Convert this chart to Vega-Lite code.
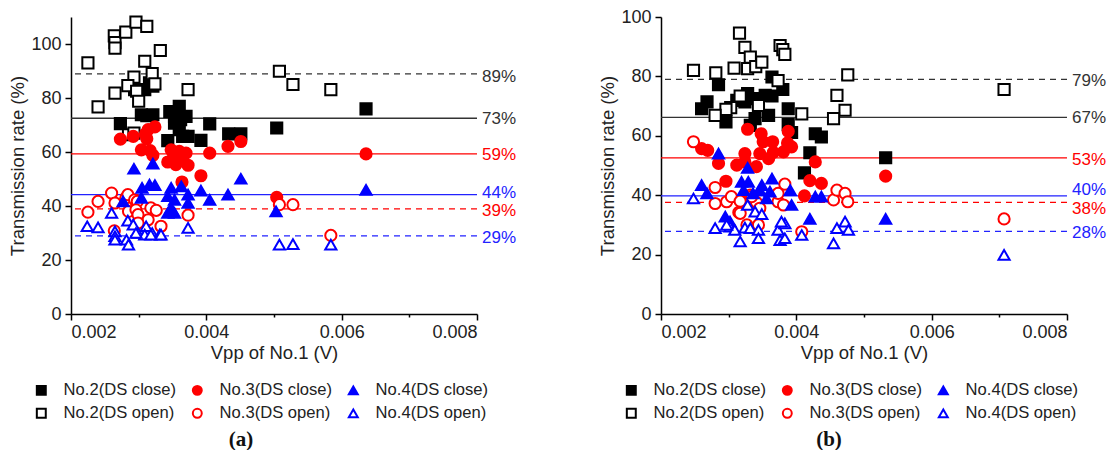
{
  "$schema": "https://vega.github.io/schema/vega-lite/v6.json",
  "padding": {"left": 8, "top": 8, "right": 0, "bottom": 0},
  "spacing": 81,
  "config": {
    "view": {"stroke": null},
    "axis": {"grid": false, "domainColor": "#000", "domainWidth": 1.5, "tickColor": "#000", "tickWidth": 1.5, "labelFont": "Liberation Sans", "labelFontSize": 18, "labelColor": "#222", "titleFont": "Liberation Sans", "titleFontSize": 18.5, "titleFontWeight": "normal", "titleColor": "#222"},
    "legend": {"columns": 3, "direction": "horizontal", "title": null, "padding": 0, "labelFont": "Liberation Sans", "labelFontSize": 16.6, "labelColor": "#222", "symbolSize": 80, "symbolStrokeWidth": 2, "labelOffset": 14, "columnPadding": 11, "rowPadding": 5, "symbolOpacity": 1},
    "title": {"font": "Liberation Serif", "fontSize": 21, "fontWeight": "bold", "color": "#111", "orient": "bottom", "offset": 7}
  },
  "datasets": {
    "linesA": [
      {"series": "No.2", "state": "close", "v": 72.5, "labelAt": 72.2, "label": "73%"},
      {"series": "No.2", "state": "open", "v": 88.9, "labelAt": 87.8, "label": "89%"},
      {"series": "No.3", "state": "close", "v": 59.3, "labelAt": 58.9, "label": "59%"},
      {"series": "No.3", "state": "open", "v": 38.9, "labelAt": 38.1, "label": "39%"},
      {"series": "No.4", "state": "close", "v": 44.2, "labelAt": 44.8, "label": "44%"},
      {"series": "No.4", "state": "open", "v": 28.9, "labelAt": 28.1, "label": "29%"}
    ],
    "linesB": [
      {"series": "No.2", "state": "close", "v": 66.2, "labelAt": 66.1, "label": "67%"},
      {"series": "No.2", "state": "open", "v": 79, "labelAt": 78.5, "label": "79%"},
      {"series": "No.3", "state": "close", "v": 52.6, "labelAt": 52, "label": "53%"},
      {"series": "No.3", "state": "open", "v": 37.6, "labelAt": 35.2, "label": "38%"},
      {"series": "No.4", "state": "close", "v": 39.8, "labelAt": 41.6, "label": "40%"},
      {"series": "No.4", "state": "open", "v": 27.8, "labelAt": 27.2, "label": "28%"}
    ],
    "ptsA": [
      {"g": "No.2(DS close)", "x": 0.00273, "y": 70.5}, {"g": "No.2(DS close)", "x": 0.00304, "y": 73.8}, {"g": "No.2(DS close)", "x": 0.00312, "y": 73.5}, {"g": "No.2(DS close)", "x": 0.00321, "y": 73.8}, {"g": "No.2(DS close)", "x": 0.00294, "y": 83.1}, {"g": "No.2(DS close)", "x": 0.00309, "y": 83.1}, {"g": "No.2(DS close)", "x": 0.00316, "y": 85.6}, {"g": "No.2(DS close)", "x": 0.00321, "y": 84.4}, {"g": "No.2(DS close)", "x": 0.00346, "y": 75}, {"g": "No.2(DS close)", "x": 0.0036, "y": 76.9}, {"g": "No.2(DS close)", "x": 0.0037, "y": 73.2}, {"g": "No.2(DS close)", "x": 0.00353, "y": 73.2}, {"g": "No.2(DS close)", "x": 0.00362, "y": 72}, {"g": "No.2(DS close)", "x": 0.00353, "y": 70.7}, {"g": "No.2(DS close)", "x": 0.0036, "y": 68.3}, {"g": "No.2(DS close)", "x": 0.00365, "y": 65.8}, {"g": "No.2(DS close)", "x": 0.00343, "y": 64.2}, {"g": "No.2(DS close)", "x": 0.00373, "y": 65.8}, {"g": "No.2(DS close)", "x": 0.00405, "y": 70.4}, {"g": "No.2(DS close)", "x": 0.00392, "y": 64.3}, {"g": "No.2(DS close)", "x": 0.00433, "y": 66.7}, {"g": "No.2(DS close)", "x": 0.00451, "y": 66.7}, {"g": "No.2(DS close)", "x": 0.00504, "y": 68.9}, {"g": "No.2(DS close)", "x": 0.00636, "y": 76},
      {"g": "No.2(DS open)", "x": 0.00225, "y": 93}, {"g": "No.2(DS open)", "x": 0.0024, "y": 76.7}, {"g": "No.2(DS open)", "x": 0.00264, "y": 103}, {"g": "No.2(DS open)", "x": 0.00265, "y": 100.5}, {"g": "No.2(DS open)", "x": 0.00265, "y": 98.5}, {"g": "No.2(DS open)", "x": 0.00265, "y": 81.8}, {"g": "No.2(DS open)", "x": 0.00281, "y": 104.4}, {"g": "No.2(DS open)", "x": 0.00296, "y": 108.1}, {"g": "No.2(DS open)", "x": 0.00312, "y": 106.5}, {"g": "No.2(DS open)", "x": 0.00332, "y": 97.6}, {"g": "No.2(DS open)", "x": 0.00309, "y": 93.6}, {"g": "No.2(DS open)", "x": 0.00293, "y": 87.7}, {"g": "No.2(DS open)", "x": 0.0032, "y": 89}, {"g": "No.2(DS open)", "x": 0.00284, "y": 84.6}, {"g": "No.2(DS open)", "x": 0.00324, "y": 85.2}, {"g": "No.2(DS open)", "x": 0.00297, "y": 82.5}, {"g": "No.2(DS open)", "x": 0.003, "y": 78.8}, {"g": "No.2(DS open)", "x": 0.00373, "y": 83.1}, {"g": "No.2(DS open)", "x": 0.00285, "y": 66.4}, {"g": "No.2(DS open)", "x": 0.00293, "y": 67}, {"g": "No.2(DS open)", "x": 0.00508, "y": 89.9}, {"g": "No.2(DS open)", "x": 0.00528, "y": 85}, {"g": "No.2(DS open)", "x": 0.00584, "y": 83.1},
      {"g": "No.3(DS close)", "x": 0.00273, "y": 64.8}, {"g": "No.3(DS close)", "x": 0.00292, "y": 65.8}, {"g": "No.3(DS close)", "x": 0.00324, "y": 69.3}, {"g": "No.3(DS close)", "x": 0.00314, "y": 68.3}, {"g": "No.3(DS close)", "x": 0.0031, "y": 66.7}, {"g": "No.3(DS close)", "x": 0.00312, "y": 64.9}, {"g": "No.3(DS close)", "x": 0.00304, "y": 60.8}, {"g": "No.3(DS close)", "x": 0.00317, "y": 60.5}, {"g": "No.3(DS close)", "x": 0.00321, "y": 58.8}, {"g": "No.3(DS close)", "x": 0.00348, "y": 60.8}, {"g": "No.3(DS close)", "x": 0.0036, "y": 60.2}, {"g": "No.3(DS close)", "x": 0.0037, "y": 59.6}, {"g": "No.3(DS close)", "x": 0.00358, "y": 58.5}, {"g": "No.3(DS close)", "x": 0.00365, "y": 56.8}, {"g": "No.3(DS close)", "x": 0.00343, "y": 56.3}, {"g": "No.3(DS close)", "x": 0.00355, "y": 55.3}, {"g": "No.3(DS close)", "x": 0.00373, "y": 55.1}, {"g": "No.3(DS close)", "x": 0.00351, "y": 57.8}, {"g": "No.3(DS close)", "x": 0.00405, "y": 59.6}, {"g": "No.3(DS close)", "x": 0.00392, "y": 51.2}, {"g": "No.3(DS close)", "x": 0.00364, "y": 48.9}, {"g": "No.3(DS close)", "x": 0.00432, "y": 62.1}, {"g": "No.3(DS close)", "x": 0.00451, "y": 63.9}, {"g": "No.3(DS close)", "x": 0.00504, "y": 43.2}, {"g": "No.3(DS close)", "x": 0.00636, "y": 59.3},
      {"g": "No.3(DS open)", "x": 0.00225, "y": 37.7}, {"g": "No.3(DS open)", "x": 0.0024, "y": 41.7}, {"g": "No.3(DS open)", "x": 0.0026, "y": 44.8}, {"g": "No.3(DS open)", "x": 0.00265, "y": 41.1}, {"g": "No.3(DS open)", "x": 0.00281, "y": 43}, {"g": "No.3(DS open)", "x": 0.00284, "y": 44.2}, {"g": "No.3(DS open)", "x": 0.00285, "y": 38}, {"g": "No.3(DS open)", "x": 0.00294, "y": 42.3}, {"g": "No.3(DS open)", "x": 0.00298, "y": 41.7}, {"g": "No.3(DS open)", "x": 0.00296, "y": 38.6}, {"g": "No.3(DS open)", "x": 0.00314, "y": 34.9}, {"g": "No.3(DS open)", "x": 0.00318, "y": 39.3}, {"g": "No.3(DS open)", "x": 0.00326, "y": 38.4}, {"g": "No.3(DS open)", "x": 0.00333, "y": 32.5}, {"g": "No.3(DS open)", "x": 0.00373, "y": 36.6}, {"g": "No.3(DS open)", "x": 0.00264, "y": 30.8}, {"g": "No.3(DS open)", "x": 0.00299, "y": 36.8}, {"g": "No.3(DS open)", "x": 0.00299, "y": 33.7}, {"g": "No.3(DS open)", "x": 0.00508, "y": 40.5}, {"g": "No.3(DS open)", "x": 0.00528, "y": 40.5}, {"g": "No.3(DS open)", "x": 0.00584, "y": 29.1},
      {"g": "No.4(DS close)", "x": 0.00293, "y": 53.8}, {"g": "No.4(DS close)", "x": 0.00321, "y": 55.7}, {"g": "No.4(DS close)", "x": 0.00305, "y": 46.7}, {"g": "No.4(DS close)", "x": 0.00316, "y": 47.9}, {"g": "No.4(DS close)", "x": 0.00324, "y": 47.7}, {"g": "No.4(DS close)", "x": 0.00348, "y": 46.7}, {"g": "No.4(DS close)", "x": 0.00363, "y": 47.3}, {"g": "No.4(DS close)", "x": 0.00343, "y": 43.6}, {"g": "No.4(DS close)", "x": 0.00353, "y": 42.3}, {"g": "No.4(DS close)", "x": 0.00373, "y": 44.2}, {"g": "No.4(DS close)", "x": 0.00373, "y": 41.1}, {"g": "No.4(DS close)", "x": 0.00348, "y": 39.3}, {"g": "No.4(DS close)", "x": 0.00353, "y": 37.4}, {"g": "No.4(DS close)", "x": 0.00343, "y": 37.4}, {"g": "No.4(DS close)", "x": 0.00392, "y": 45.7}, {"g": "No.4(DS close)", "x": 0.00405, "y": 42.3}, {"g": "No.4(DS close)", "x": 0.00432, "y": 44.2}, {"g": "No.4(DS close)", "x": 0.00451, "y": 50.1}, {"g": "No.4(DS close)", "x": 0.00277, "y": 41.7}, {"g": "No.4(DS close)", "x": 0.00304, "y": 43}, {"g": "No.4(DS close)", "x": 0.00503, "y": 38}, {"g": "No.4(DS close)", "x": 0.00636, "y": 46},
      {"g": "No.4(DS open)", "x": 0.00224, "y": 32.5}, {"g": "No.4(DS open)", "x": 0.0024, "y": 32.1}, {"g": "No.4(DS open)", "x": 0.0026, "y": 37.4}, {"g": "No.4(DS open)", "x": 0.00265, "y": 30.6}, {"g": "No.4(DS open)", "x": 0.00265, "y": 28.8}, {"g": "No.4(DS open)", "x": 0.00265, "y": 27.5}, {"g": "No.4(DS open)", "x": 0.00282, "y": 27.5}, {"g": "No.4(DS open)", "x": 0.00285, "y": 25.7}, {"g": "No.4(DS open)", "x": 0.00284, "y": 34.6}, {"g": "No.4(DS open)", "x": 0.00292, "y": 33.1}, {"g": "No.4(DS open)", "x": 0.00299, "y": 30}, {"g": "No.4(DS open)", "x": 0.00311, "y": 32.5}, {"g": "No.4(DS open)", "x": 0.0032, "y": 30}, {"g": "No.4(DS open)", "x": 0.00331, "y": 29.4}, {"g": "No.4(DS open)", "x": 0.00373, "y": 31.9}, {"g": "No.4(DS open)", "x": 0.00309, "y": 29.4}, {"g": "No.4(DS open)", "x": 0.00318, "y": 29.4}, {"g": "No.4(DS open)", "x": 0.00333, "y": 29.4}, {"g": "No.4(DS open)", "x": 0.00296, "y": 30}, {"g": "No.4(DS open)", "x": 0.00508, "y": 25.7}, {"g": "No.4(DS open)", "x": 0.00528, "y": 25.9}, {"g": "No.4(DS open)", "x": 0.00584, "y": 25.7}
    ],
    "ptsB": [
      {"g": "No.2(DS close)", "x": 0.00285, "y": 77.2}, {"g": "No.2(DS close)", "x": 0.00268, "y": 71.4}, {"g": "No.2(DS close)", "x": 0.0026, "y": 69.1}, {"g": "No.2(DS close)", "x": 0.00296, "y": 64.7}, {"g": "No.2(DS close)", "x": 0.00312, "y": 71.9}, {"g": "No.2(DS close)", "x": 0.00328, "y": 74.2}, {"g": "No.2(DS close)", "x": 0.00324, "y": 71.4}, {"g": "No.2(DS close)", "x": 0.00339, "y": 72.5}, {"g": "No.2(DS close)", "x": 0.00354, "y": 73.6}, {"g": "No.2(DS close)", "x": 0.00364, "y": 73.4}, {"g": "No.2(DS close)", "x": 0.00364, "y": 79.8}, {"g": "No.2(DS close)", "x": 0.0038, "y": 75.6}, {"g": "No.2(DS close)", "x": 0.00339, "y": 65.8}, {"g": "No.2(DS close)", "x": 0.00332, "y": 63.5}, {"g": "No.2(DS close)", "x": 0.00359, "y": 66.9}, {"g": "No.2(DS close)", "x": 0.00388, "y": 69.1}, {"g": "No.2(DS close)", "x": 0.00388, "y": 63.8}, {"g": "No.2(DS close)", "x": 0.00393, "y": 61.1}, {"g": "No.2(DS close)", "x": 0.00428, "y": 60.7}, {"g": "No.2(DS close)", "x": 0.00437, "y": 59.6}, {"g": "No.2(DS close)", "x": 0.0042, "y": 54.3}, {"g": "No.2(DS close)", "x": 0.00412, "y": 47.5}, {"g": "No.2(DS close)", "x": 0.00532, "y": 52.6},
      {"g": "No.2(DS open)", "x": 0.00248, "y": 82}, {"g": "No.2(DS open)", "x": 0.00281, "y": 81.2}, {"g": "No.2(DS open)", "x": 0.00308, "y": 82.8}, {"g": "No.2(DS open)", "x": 0.00316, "y": 94.6}, {"g": "No.2(DS open)", "x": 0.00324, "y": 89.8}, {"g": "No.2(DS open)", "x": 0.00332, "y": 86.5}, {"g": "No.2(DS open)", "x": 0.00328, "y": 82.6}, {"g": "No.2(DS open)", "x": 0.0034, "y": 83.3}, {"g": "No.2(DS open)", "x": 0.00349, "y": 84.8}, {"g": "No.2(DS open)", "x": 0.00376, "y": 90.4}, {"g": "No.2(DS open)", "x": 0.0038, "y": 89}, {"g": "No.2(DS open)", "x": 0.00383, "y": 87.4}, {"g": "No.2(DS open)", "x": 0.00373, "y": 78.6}, {"g": "No.2(DS open)", "x": 0.00317, "y": 73.4}, {"g": "No.2(DS open)", "x": 0.00303, "y": 69.5}, {"g": "No.2(DS open)", "x": 0.00296, "y": 68.9}, {"g": "No.2(DS open)", "x": 0.0028, "y": 66.9}, {"g": "No.2(DS open)", "x": 0.00344, "y": 70.2}, {"g": "No.2(DS open)", "x": 0.00408, "y": 67.4}, {"g": "No.2(DS open)", "x": 0.0046, "y": 73.6}, {"g": "No.2(DS open)", "x": 0.00472, "y": 68.6}, {"g": "No.2(DS open)", "x": 0.00455, "y": 65.8}, {"g": "No.2(DS open)", "x": 0.00476, "y": 80.5}, {"g": "No.2(DS open)", "x": 0.00707, "y": 75.6},
      {"g": "No.3(DS close)", "x": 0.0026, "y": 55.7}, {"g": "No.3(DS close)", "x": 0.00269, "y": 55.1}, {"g": "No.3(DS close)", "x": 0.00285, "y": 50.7}, {"g": "No.3(DS close)", "x": 0.00296, "y": 44.7}, {"g": "No.3(DS close)", "x": 0.00312, "y": 50.1}, {"g": "No.3(DS close)", "x": 0.00328, "y": 62.2}, {"g": "No.3(DS close)", "x": 0.00324, "y": 54}, {"g": "No.3(DS close)", "x": 0.00324, "y": 51.2}, {"g": "No.3(DS close)", "x": 0.00341, "y": 49.6}, {"g": "No.3(DS close)", "x": 0.00348, "y": 60.7}, {"g": "No.3(DS close)", "x": 0.00351, "y": 58}, {"g": "No.3(DS close)", "x": 0.00365, "y": 58}, {"g": "No.3(DS close)", "x": 0.00346, "y": 54}, {"g": "No.3(DS close)", "x": 0.00359, "y": 52.3}, {"g": "No.3(DS close)", "x": 0.00366, "y": 54.4}, {"g": "No.3(DS close)", "x": 0.00381, "y": 54.6}, {"g": "No.3(DS close)", "x": 0.00388, "y": 61.5}, {"g": "No.3(DS close)", "x": 0.00387, "y": 57.6}, {"g": "No.3(DS close)", "x": 0.00393, "y": 56.3}, {"g": "No.3(DS close)", "x": 0.00428, "y": 51.2}, {"g": "No.3(DS close)", "x": 0.0042, "y": 44.9}, {"g": "No.3(DS close)", "x": 0.00437, "y": 44}, {"g": "No.3(DS close)", "x": 0.00412, "y": 39.8}, {"g": "No.3(DS close)", "x": 0.00532, "y": 46.4},
      {"g": "No.3(DS open)", "x": 0.00248, "y": 58}, {"g": "No.3(DS open)", "x": 0.0028, "y": 42.6}, {"g": "No.3(DS open)", "x": 0.0028, "y": 37.2}, {"g": "No.3(DS open)", "x": 0.00297, "y": 37.8}, {"g": "No.3(DS open)", "x": 0.00304, "y": 39.5}, {"g": "No.3(DS open)", "x": 0.00317, "y": 38}, {"g": "No.3(DS open)", "x": 0.00315, "y": 34.2}, {"g": "No.3(DS open)", "x": 0.00332, "y": 40}, {"g": "No.3(DS open)", "x": 0.00341, "y": 37.6}, {"g": "No.3(DS open)", "x": 0.00346, "y": 35.6}, {"g": "No.3(DS open)", "x": 0.00344, "y": 30}, {"g": "No.3(DS open)", "x": 0.00327, "y": 30}, {"g": "No.3(DS open)", "x": 0.00373, "y": 37.8}, {"g": "No.3(DS open)", "x": 0.00381, "y": 36.7}, {"g": "No.3(DS open)", "x": 0.00383, "y": 43.7}, {"g": "No.3(DS open)", "x": 0.00373, "y": 40.6}, {"g": "No.3(DS open)", "x": 0.00408, "y": 27.7}, {"g": "No.3(DS open)", "x": 0.00455, "y": 38.4}, {"g": "No.3(DS open)", "x": 0.0046, "y": 41.7}, {"g": "No.3(DS open)", "x": 0.00472, "y": 40.6}, {"g": "No.3(DS open)", "x": 0.00476, "y": 37.8}, {"g": "No.3(DS open)", "x": 0.00707, "y": 32}, {"g": "No.3(DS open)", "x": 0.00334, "y": 39.5}, {"g": "No.3(DS open)", "x": 0.00317, "y": 33.9},
      {"g": "No.4(DS close)", "x": 0.00285, "y": 54}, {"g": "No.4(DS close)", "x": 0.0026, "y": 43.4}, {"g": "No.4(DS close)", "x": 0.00268, "y": 40.6}, {"g": "No.4(DS close)", "x": 0.00328, "y": 49.2}, {"g": "No.4(DS close)", "x": 0.00329, "y": 44.5}, {"g": "No.4(DS close)", "x": 0.00319, "y": 44.5}, {"g": "No.4(DS close)", "x": 0.00322, "y": 41.7}, {"g": "No.4(DS close)", "x": 0.00336, "y": 40.6}, {"g": "No.4(DS close)", "x": 0.00349, "y": 43.4}, {"g": "No.4(DS close)", "x": 0.00346, "y": 41.7}, {"g": "No.4(DS close)", "x": 0.00361, "y": 41.2}, {"g": "No.4(DS close)", "x": 0.00364, "y": 45.6}, {"g": "No.4(DS close)", "x": 0.00356, "y": 38.9}, {"g": "No.4(DS close)", "x": 0.00391, "y": 41.7}, {"g": "No.4(DS close)", "x": 0.00393, "y": 36.7}, {"g": "No.4(DS close)", "x": 0.00295, "y": 32.8}, {"g": "No.4(DS close)", "x": 0.00302, "y": 31.1}, {"g": "No.4(DS close)", "x": 0.0042, "y": 32}, {"g": "No.4(DS close)", "x": 0.00428, "y": 39.5}, {"g": "No.4(DS close)", "x": 0.00437, "y": 39.5}, {"g": "No.4(DS close)", "x": 0.00532, "y": 32},
      {"g": "No.4(DS open)", "x": 0.00248, "y": 38.9}, {"g": "No.4(DS open)", "x": 0.0028, "y": 28.9}, {"g": "No.4(DS open)", "x": 0.00302, "y": 29.4}, {"g": "No.4(DS open)", "x": 0.00309, "y": 28.3}, {"g": "No.4(DS open)", "x": 0.00317, "y": 24.4}, {"g": "No.4(DS open)", "x": 0.00324, "y": 29.1}, {"g": "No.4(DS open)", "x": 0.00332, "y": 28.9}, {"g": "No.4(DS open)", "x": 0.00344, "y": 28.3}, {"g": "No.4(DS open)", "x": 0.00344, "y": 25.5}, {"g": "No.4(DS open)", "x": 0.00328, "y": 36.7}, {"g": "No.4(DS open)", "x": 0.00339, "y": 34.5}, {"g": "No.4(DS open)", "x": 0.00349, "y": 33.6}, {"g": "No.4(DS open)", "x": 0.00373, "y": 28.3}, {"g": "No.4(DS open)", "x": 0.00383, "y": 30.5}, {"g": "No.4(DS open)", "x": 0.00376, "y": 24.9}, {"g": "No.4(DS open)", "x": 0.00383, "y": 25.5}, {"g": "No.4(DS open)", "x": 0.00408, "y": 26.6}, {"g": "No.4(DS open)", "x": 0.00455, "y": 23.8}, {"g": "No.4(DS open)", "x": 0.0046, "y": 28.9}, {"g": "No.4(DS open)", "x": 0.00472, "y": 31.1}, {"g": "No.4(DS open)", "x": 0.00477, "y": 28.3}, {"g": "No.4(DS open)", "x": 0.00707, "y": 19.9}, {"g": "No.4(DS open)", "x": 0.00297, "y": 30}, {"g": "No.4(DS open)", "x": 0.00378, "y": 31.1}
    ]
  },
  "hconcat": [
    {
      "width": 406, "height": 297,
      "title": {"text": "(a)", "dx": -33},
      "layer": [
        {
          "data": {"name": "linesA"},
          "mark": {"type": "rule", "strokeWidth": 1.3},
          "encoding": {
            "y": {"field": "v", "type": "quantitative", "scale": {"domain": [0, 110], "nice": false}, "title": "Transmission rate (%)",
              "axis": {"values": [0, 10, 20, 30, 40, 50, 60, 70, 80, 90, 100, 110], "labelExpr": "datum.value % 20 === 0 ? datum.label : ''", "tickSize": {"condition": {"test": "datum.value % 20 === 0", "value": 6}, "value": 3}, "labelPadding": 4, "titlePadding": 3}},
            "color": {"field": "series", "type": "nominal", "scale": {"domain": ["No.2", "No.3", "No.4"], "range": ["#333333", "#ff0000", "#2222ff"]}, "legend": null},
            "strokeDash": {"field": "state", "type": "nominal", "scale": {"domain": ["close", "open"], "range": [[1, 0], [6, 5]]}, "legend": null}
          }
        },
        {
          "data": {"name": "ptsA"},
          "mark": {"type": "point", "strokeWidth": 2, "opacity": 1, "size": 125},
          "encoding": {
            "x": {"field": "x", "type": "quantitative", "scale": {"domain": [0.002, 0.008], "nice": false}, "title": "Vpp of No.1 (V)",
              "axis": {"values": [0.002, 0.003, 0.004, 0.005, 0.006, 0.007, 0.008], "format": ".3f", "labelExpr": "round(datum.value*1000) % 2 === 0 ? datum.label : ''", "tickSize": {"condition": {"test": "round(datum.value*1000) % 2 === 0", "value": 6}, "value": 3}, "labelPadding": 3, "titlePadding": 2}},
            "y": {"field": "y", "type": "quantitative", "title": "Transmission rate (%)"},
            "shape": {"field": "g", "type": "nominal", "scale": {"domain": ["No.2(DS close)", "No.3(DS close)", "No.4(DS close)", "No.2(DS open)", "No.3(DS open)", "No.4(DS open)"], "range": ["square", "circle", "triangle-up", "square", "circle", "triangle-up"]}, "legend": {"orient": "none", "direction": "horizontal", "legendX": -38, "legendY": 365}},
            "fill": {"field": "g", "type": "nominal", "scale": {"domain": ["No.2(DS close)", "No.3(DS close)", "No.4(DS close)", "No.2(DS open)", "No.3(DS open)", "No.4(DS open)"], "range": ["#000000", "#ff0000", "#0000ff", "#ffffff", "#ffffff", "#ffffff"]}, "legend": {"orient": "none", "direction": "horizontal", "legendX": -38, "legendY": 365}},
            "stroke": {"field": "g", "type": "nominal", "scale": {"domain": ["No.2(DS close)", "No.3(DS close)", "No.4(DS close)", "No.2(DS open)", "No.3(DS open)", "No.4(DS open)"], "range": ["#000000", "#ff0000", "#0000ff", "#000000", "#ff0000", "#0000ff"]}, "legend": {"orient": "none", "direction": "horizontal", "legendX": -38, "legendY": 365}}
          }
        },
        {
          "data": {"name": "linesA"},
          "mark": {"type": "text", "align": "left", "baseline": "middle", "dx": 5, "font": "Liberation Sans", "fontSize": 17},
          "encoding": {
            "x": {"datum": 0.008, "type": "quantitative", "title": "Vpp of No.1 (V)"},
            "y": {"field": "labelAt", "type": "quantitative", "title": "Transmission rate (%)"},
            "text": {"field": "label"},
            "color": {"field": "series", "type": "nominal", "legend": null}
          }
        }
      ]
    },
    {
      "width": 406, "height": 297,
      "title": {"text": "(b)", "dx": -35},
      "layer": [
        {
          "data": {"name": "linesB"},
          "mark": {"type": "rule", "strokeWidth": 1.3},
          "encoding": {
            "y": {"field": "v", "type": "quantitative", "scale": {"domain": [0, 100], "nice": false}, "title": "Transmission rate (%)",
              "axis": {"values": [0, 10, 20, 30, 40, 50, 60, 70, 80, 90, 100], "labelExpr": "datum.value % 20 === 0 ? datum.label : ''", "tickSize": {"condition": {"test": "datum.value % 20 === 0", "value": 6}, "value": 3}, "labelPadding": 4, "titlePadding": 3}},
            "color": {"field": "series", "type": "nominal", "scale": {"domain": ["No.2", "No.3", "No.4"], "range": ["#333333", "#ff0000", "#2222ff"]}, "legend": null},
            "strokeDash": {"field": "state", "type": "nominal", "scale": {"domain": ["close", "open"], "range": [[1, 0], [6, 5]]}, "legend": null}
          }
        },
        {
          "data": {"name": "ptsB"},
          "mark": {"type": "point", "strokeWidth": 2, "opacity": 1, "size": 125},
          "encoding": {
            "x": {"field": "x", "type": "quantitative", "scale": {"domain": [0.002, 0.008], "nice": false}, "title": "Vpp of No.1 (V)",
              "axis": {"values": [0.002, 0.003, 0.004, 0.005, 0.006, 0.007, 0.008], "format": ".3f", "labelExpr": "round(datum.value*1000) % 2 === 0 ? datum.label : ''", "tickSize": {"condition": {"test": "round(datum.value*1000) % 2 === 0", "value": 6}, "value": 3}, "labelPadding": 3, "titlePadding": 2}},
            "y": {"field": "y", "type": "quantitative", "title": "Transmission rate (%)"},
            "shape": {"field": "g", "type": "nominal", "scale": {"domain": ["No.2(DS close)", "No.3(DS close)", "No.4(DS close)", "No.2(DS open)", "No.3(DS open)", "No.4(DS open)"], "range": ["square", "circle", "triangle-up", "square", "circle", "triangle-up"]}, "legend": {"orient": "none", "direction": "horizontal", "legendX": -38, "legendY": 365}},
            "fill": {"field": "g", "type": "nominal", "scale": {"domain": ["No.2(DS close)", "No.3(DS close)", "No.4(DS close)", "No.2(DS open)", "No.3(DS open)", "No.4(DS open)"], "range": ["#000000", "#ff0000", "#0000ff", "#ffffff", "#ffffff", "#ffffff"]}, "legend": {"orient": "none", "direction": "horizontal", "legendX": -38, "legendY": 365}},
            "stroke": {"field": "g", "type": "nominal", "scale": {"domain": ["No.2(DS close)", "No.3(DS close)", "No.4(DS close)", "No.2(DS open)", "No.3(DS open)", "No.4(DS open)"], "range": ["#000000", "#ff0000", "#0000ff", "#000000", "#ff0000", "#0000ff"]}, "legend": {"orient": "none", "direction": "horizontal", "legendX": -38, "legendY": 365}}
          }
        },
        {
          "data": {"name": "linesB"},
          "mark": {"type": "text", "align": "left", "baseline": "middle", "dx": 5, "font": "Liberation Sans", "fontSize": 17},
          "encoding": {
            "x": {"datum": 0.008, "type": "quantitative", "title": "Vpp of No.1 (V)"},
            "y": {"field": "labelAt", "type": "quantitative", "title": "Transmission rate (%)"},
            "text": {"field": "label"},
            "color": {"field": "series", "type": "nominal", "legend": null}
          }
        }
      ]
    }
  ],
  "resolve": {"scale": {"shape": "independent", "fill": "independent", "stroke": "independent", "color": "independent", "strokeDash": "independent", "x": "independent", "y": "independent"}, "legend": {"shape": "independent", "fill": "independent", "stroke": "independent"}}
}
